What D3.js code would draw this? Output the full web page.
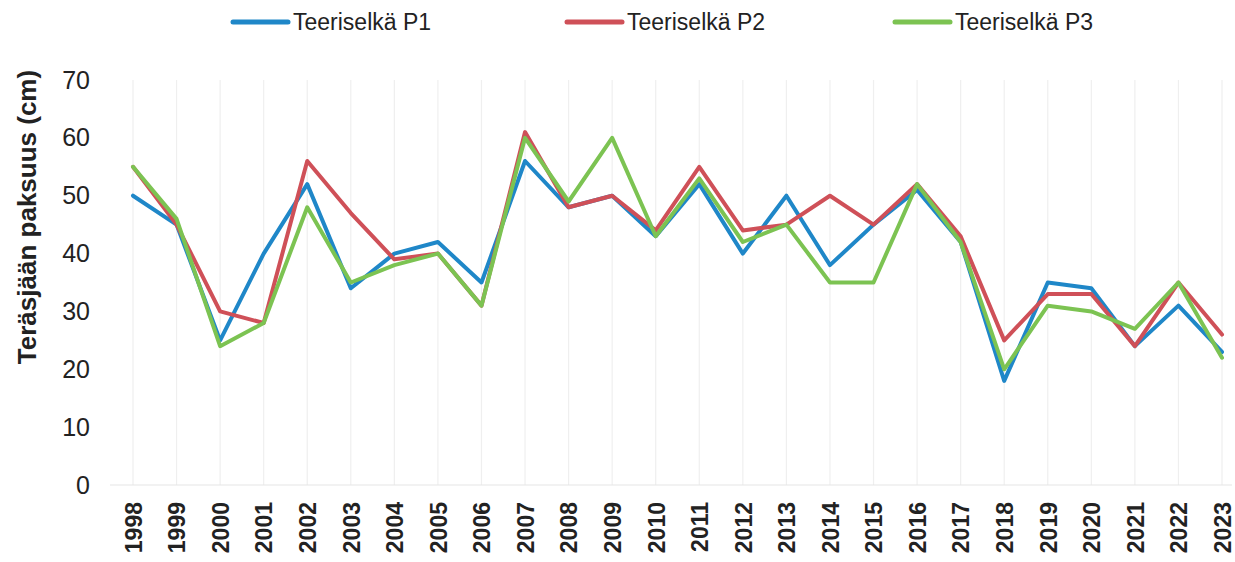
<!DOCTYPE html>
<html>
<head>
<meta charset="utf-8">
<script src="https://cdn.jsdelivr.net/npm/d3@7"></script>
<style>
  body { margin: 0; background: #fff; }
  text { font-family: "Liberation Sans", Arial, sans-serif; fill: #222; }
</style>
</head>
<body>
<script>

// years on the x axis
var years = [1998, 1999, 2000, 2001, 2002, 2003, 2004, 2005, 2006, 2007, 2008, 2009, 2010,
	2011, 2012, 2013, 2014, 2015, 2016, 2017, 2018, 2019, 2020, 2021, 2022, 2023];

// ice thickness, cm
var p1Values = [50, 45, 25, 40, 52, 34, 40, 42, 35, 56, 48, 50, 43,
	52, 40, 50, 38, 45, 51, 42, 18, 35, 34, 24, 31, 23];
var p2Values = [55, 45, 30, 28, 56, 47, 39, 40, 31, 61, 48, 50, 44,
	55, 44, 45, 50, 45, 52, 43, 25, 33, 33, 24, 35, 26];
var p3Values = [55, 46, 24, 28, 48, 35, 38, 40, 31, 60, 49, 60, 43,
	53, 42, 45, 35, 35, 52, 42, 20, 31, 30, 27, 35, 22];

var seriesNames = ["Teeriselkä P1", "Teeriselkä P2", "Teeriselkä P3"];
var yTicks = [0, 10, 20, 30, 40, 50, 60, 70];

const width = 1235;
const height = 562;

var seriesColors = ["#1f87c8", "#cf5058", "#7cc352"];
var allSeries = [p1Values, p2Values, p3Values];

var svg = d3.select('body')
	.append('svg')
	.attr('width', width)
	.attr('height', height);

// scales
var xScale = d3.scalePoint().domain(years).range([133, 1222]);
var yScale = d3.scaleLinear().domain([0, 70]).range([485, 80]);

// vertical grid lines
svg.append('g')
	.selectAll('line')
	.data(years)
	.join('line')
	.attr('x1', d => xScale(d))
	.attr('x2', d => xScale(d))
	.attr('y1', yScale(70))
	.attr('y2', yScale(0))
	.attr('stroke', '#efefef')
	.attr('stroke-width', 1.2);

// baseline
svg.append('line')
	.attr('x1', 110).attr('x2', 1232)
	.attr('y1', yScale(0)).attr('y2', yScale(0))
	.attr('stroke', '#e6e6e6')
	.attr('stroke-width', 1.2);

// y-axis
var yAxis = d3.axisLeft(yScale).tickValues(yTicks).tickSize(0).tickPadding(0);
var yAxisGroup = svg.append('g')
	.attr('transform', 'translate(90,0)')
	.call(yAxis);
yAxisGroup.select('.domain').remove();
yAxisGroup.selectAll('text')
	.style('font-size', '25px')
	.style('fill', '#222');

// x-axis labels, rotated
var xAxis = d3.axisBottom(xScale).tickSize(0).tickPadding(0);
var xAxisGroup = svg.append('g')
	.attr('transform', `translate(0,${yScale(0)})`)
	.call(xAxis);
xAxisGroup.select('.domain').remove();
xAxisGroup.selectAll('text')
	.attr('transform', 'translate(0,17) rotate(-90)')
	.attr('text-anchor', 'end')
	.attr('x', 0)
	.attr('y', 0)
	.attr('dy', '0.36em')
	.style('font-size', '23px')
	.style('font-weight', 'bold')
	.style('fill', '#222');

// y-axis title
svg.append('text')
	.attr('transform', 'translate(27,217) rotate(-90)')
	.attr('text-anchor', 'middle')
	.attr('dy', '0.36em')
	.style('font-size', '26px')
	.style('font-weight', 'bold')
	.text('Teräsjään paksuus (cm)');

// lines
var line = d3.line()
	.x((d, i) => xScale(years[i]))
	.y(d => yScale(d));

svg.append('g')
	.selectAll('path')
	.data(allSeries)
	.join('path')
	.attr('d', d => line(d))
	.attr('fill', 'none')
	.attr('stroke', (d, i) => seriesColors[i])
	.attr('stroke-width', 4)
	.attr('stroke-linejoin', 'round')
	.attr('stroke-linecap', 'round');

// legend
var legendX = [233, 567, 895];
var legend = svg.append('g')
	.selectAll('g')
	.data(seriesNames)
	.join('g')
	.attr('transform', (d, i) => `translate(${legendX[i]},22)`);

legend.append('line')
	.attr('x1', 0).attr('x2', 55)
	.attr('y1', 0).attr('y2', 0)
	.attr('stroke', (d, i) => seriesColors[i])
	.attr('stroke-width', 5)
	.attr('stroke-linecap', 'round');

legend.append('text')
	.attr('x', 60)
	.attr('dy', '0.36em')
	.style('font-size', '23px')
	.text(d => d);

</script>
</body>
</html>
